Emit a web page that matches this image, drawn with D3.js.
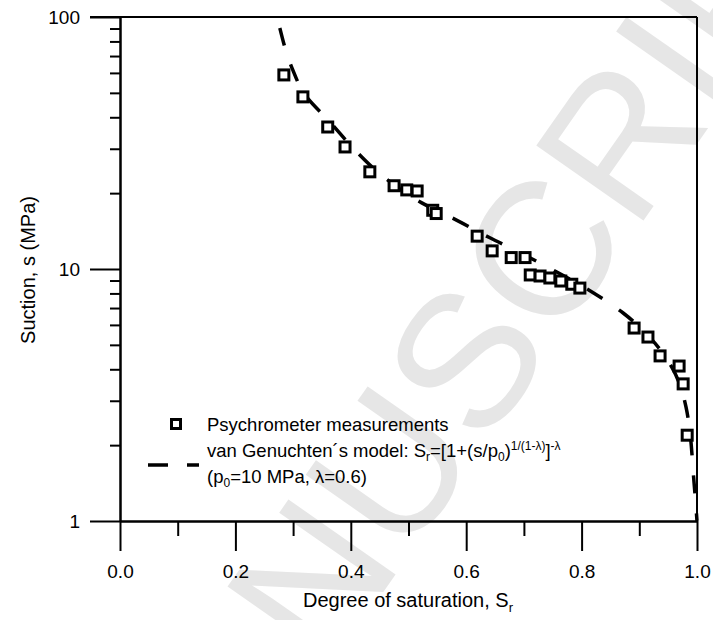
<!DOCTYPE html>
<head>
<meta charset="utf-8">
<script src="https://d3js.org/d3.v7.min.js"></script>
<style>
  body { margin: 0; background: #fff; }
  text { font-family: "Liberation Sans", Arial, sans-serif; fill: #000; }
</style>
</head>
<body>
<div id="chart"></div>
<script>
  // measured points: degree of saturation vs suction (MPa)
  var measSr = [0.284, 0.317, 0.360, 0.390, 0.433, 0.475, 0.497, 0.515, 0.542, 0.548,
                0.619, 0.645, 0.678, 0.702, 0.711, 0.728, 0.745, 0.764, 0.783, 0.797,
                0.891, 0.915, 0.936, 0.969, 0.976, 0.983];
  var measS  = [58.9, 48.2, 36.6, 30.5, 24.3, 21.4, 20.6, 20.4, 17.1, 16.6,
                13.5, 11.8, 11.1, 11.1, 9.47, 9.38, 9.21, 8.96, 8.70, 8.40,
                5.83, 5.37, 4.52, 4.12, 3.50, 2.19];
  // van Genuchten curve
  var modelSr = [0.277, 0.298, 0.321, 0.364, 0.407, 0.459, 0.523, 0.584, 0.641, 0.690,
                 0.757, 0.818, 0.872, 0.919, 0.957, 0.981, 0.995, 1.0];
  var modelS  = [90.4, 62.8, 49.0, 38.3, 29.7, 23.0, 18.3, 15.6, 13.3, 11.7,
                 9.73, 8.11, 6.69, 5.33, 4.05, 2.83, 1.41, 1.0];

  var xMajor = [0, 0.2, 0.4, 0.6, 0.8, 1.0];
  var xMinor = [0.1, 0.3, 0.5, 0.7, 0.9];
  var yMajor = [1, 10, 100];
  var yMinor = [2, 3, 4, 5, 6, 7, 8, 9, 20, 30, 40, 50, 60, 70, 80, 90];

  var width = 713, height = 620;
  var mLeft = 120, mRight = 697, mTop = 17, mBottom = 521;

  var svg = d3.select("#chart").append("svg")
      .attr("width", width)
      .attr("height", height);

  var x = d3.scaleLinear().domain([0, 1]).range([mLeft, mRight]);
  var y = d3.scaleLog().domain([1, 100]).range([mBottom, mTop]);

  // watermark
  svg.append("text")
    .attr("transform", "translate(468,355) rotate(-55)")
    .attr("text-anchor", "middle")
    .attr("dy", "0.35em")
    .style("font-size", "190px")
    .style("fill", "#e6e6e6")
    .text("MANUSCRIPT");

  // frame (top and right)
  svg.append("line").attr("x1", mLeft - 30).attr("x2", mRight).attr("y1", mTop).attr("y2", mTop)
    .attr("stroke", "#000").attr("stroke-width", 2);
  svg.append("line").attr("x1", mRight).attr("x2", mRight).attr("y1", mTop).attr("y2", mBottom)
    .attr("stroke", "#000").attr("stroke-width", 2);

  // axes
  svg.append("g").attr("transform", "translate(" + mLeft + ",0)")
    .call(d3.axisLeft(y).tickValues(yMinor).tickSize(10).tickSizeOuter(0).tickFormat(""));
  svg.append("g").attr("transform", "translate(" + mLeft + ",0)")
    .call(d3.axisLeft(y).tickValues(yMajor).tickSize(30).tickSizeOuter(0).tickPadding(10).tickFormat(d3.format("d")));
  svg.append("g").attr("transform", "translate(0," + mBottom + ")")
    .call(d3.axisBottom(x).tickValues(xMinor).tickSize(15).tickSizeOuter(0).tickFormat(""));
  svg.append("g").attr("transform", "translate(0," + mBottom + ")")
    .call(d3.axisBottom(x).tickValues(xMajor).tickSize(30).tickSizeOuter(0).tickPadding(14).tickFormat(d3.format(".1f")));

  svg.selectAll(".domain").attr("stroke-width", 2);
  svg.selectAll(".tick line").attr("stroke-width", 2);
  svg.selectAll(".tick text").style("font-size", "19px").style("font-family", "Liberation Sans, Arial, sans-serif");

  // axis titles
  var xt = svg.append("text")
    .attr("x", 408).attr("y", 607)
    .attr("text-anchor", "middle")
    .style("font-size", "20px");
  xt.append("tspan").text("Degree of saturation, S");
  xt.append("tspan").attr("dy", 5).style("font-size", "13px").text("r");

  svg.append("text")
    .attr("transform", "translate(35,270) rotate(-90)")
    .attr("text-anchor", "middle")
    .style("font-size", "20px")
    .text("Suction, s (MPa)");

  // model curve
  var line = d3.line()
    .x(function(d, i) { return x(modelSr[i]); })
    .y(function(d, i) { return y(modelS[i]); })
    .curve(d3.curveMonotoneY);

  svg.append("path")
    .datum(modelS)
    .attr("d", line)
    .attr("fill", "none")
    .attr("stroke", "#000")
    .attr("stroke-width", 3.5)
    .attr("stroke-dasharray", "18,20");

  // measurements
  svg.selectAll("rect.pt")
    .data(measS)
    .enter().append("rect")
    .attr("class", "pt")
    .attr("x", function(d, i) { return x(measSr[i]) - 5; })
    .attr("y", function(d) { return y(d) - 5; })
    .attr("width", 10).attr("height", 10)
    .attr("fill", "#fff")
    .attr("stroke", "#000")
    .attr("stroke-width", 3);

  // legend
  svg.append("rect")
    .attr("x", 171.5).attr("y", 419.5).attr("width", 9).attr("height", 9)
    .attr("fill", "#fff").attr("stroke", "#000").attr("stroke-width", 3);
  svg.append("line")
    .attr("x1", 148).attr("x2", 199).attr("y1", 465).attr("y2", 465)
    .attr("stroke", "#000").attr("stroke-width", 3.5)
    .attr("stroke-dasharray", "20,19");

  svg.append("text").attr("x", 207).attr("y", 431).style("font-size", "18.5px")
    .text("Psychrometer measurements");

  var l2 = svg.append("text").attr("x", 207).attr("y", 457).style("font-size", "18.5px");
  l2.append("tspan").text("van Genuchten\u00b4s model: S");
  l2.append("tspan").attr("dy", 4).style("font-size", "12px").text("r");
  l2.append("tspan").attr("dy", -4).text("=[1+(s/p");
  l2.append("tspan").attr("dy", 4).style("font-size", "12px").text("0");
  l2.append("tspan").attr("dy", -4).text(")");
  l2.append("tspan").attr("dy", -7).style("font-size", "12px").text("1/(1-\u03bb)");
  l2.append("tspan").attr("dy", 7).text("]");
  l2.append("tspan").attr("dy", -7).style("font-size", "12px").text("-\u03bb");

  var l3 = svg.append("text").attr("x", 207).attr("y", 483).style("font-size", "18.5px");
  l3.append("tspan").text("(p");
  l3.append("tspan").attr("dy", 4).style("font-size", "12px").text("0");
  l3.append("tspan").attr("dy", -4).text("=10 MPa, \u03bb=0.6)");
</script>
</body>
</html>
